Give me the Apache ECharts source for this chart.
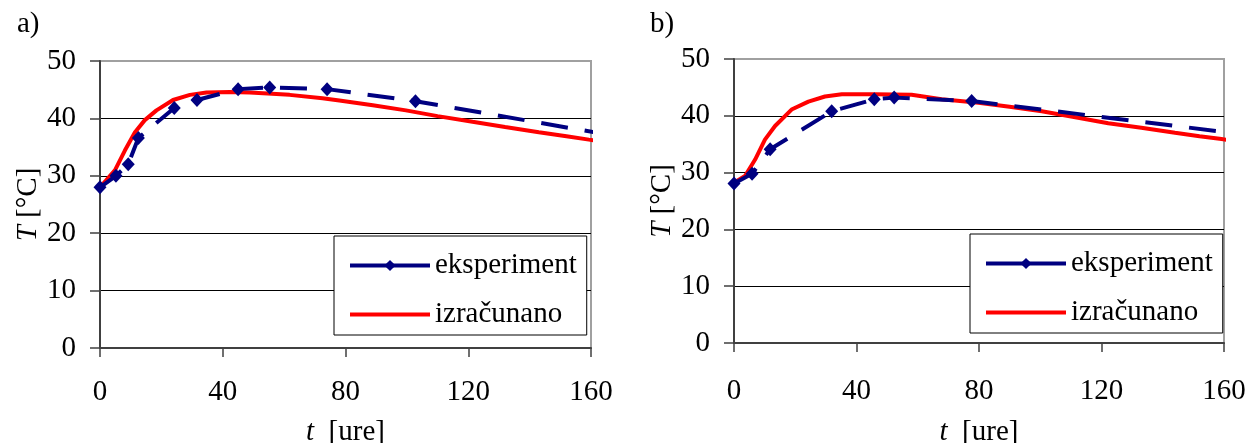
<!DOCTYPE html>
<html>
<head>
<meta charset="utf-8">
<script src="https://cdn.jsdelivr.net/npm/echarts@6/dist/echarts.min.js"></script>
<style>
html,body{margin:0;padding:0;background:#fff;}
#c{width:1256px;height:443px;}
</style>
</head>
<body>
<div id="c"></div>
<script>
// ---- data ----
const panelLabels = ['a)', 'b)'];
const xTicks = [0, 40, 80, 120, 160];
const yTicks = [0, 10, 20, 30, 40, 50];
const seriesNames = ['eksperiment', 'izračunano'];

// panel a – experiment
const tExpA = [0, 5.2, 9.2, 12.5, 24.2, 31.6, 45, 55.3, 74, 102.8, 162];
const TExpA = [28, 30, 32, 36.6, 41.8, 43.2, 45.1, 45.4, 45.1, 43.0, 37.5];
// panel a – computed
const tCalcA = [0, 2, 4.9, 8.1, 11.4, 14.6, 18.4, 23.8, 29.3, 34.7, 42.3, 48.8, 61.8, 72.5, 78, 88.9, 99.7, 110, 121.4, 132, 143, 152, 159.3, 162];
const TCalcA = [28, 29.2, 31, 34.4, 37.6, 39.7, 41.4, 43.2, 44.1, 44.5, 44.6, 44.5, 44.1, 43.5, 43.1, 42.3, 41.4, 40.4, 39.4, 38.5, 37.6, 36.9, 36.3, 36.1];

// panel b – experiment
const tExpB = [0, 5.9, 11.8, 31.9, 45.8, 52.3, 77.6, 161];
const TExpB = [28.1, 29.8, 34.1, 40.8, 42.9, 43.2, 42.6, 37.1];
// panel b – computed
const tCalcB = [0, 3.6, 6.9, 10.1, 13.4, 18.8, 24.3, 29.7, 35.2, 46, 58, 67.8, 79.8, 90, 100.5, 111, 122.2, 133, 144, 152, 159.2, 162];
const TCalcB = [28.2, 29.4, 32.3, 35.8, 38.2, 41.1, 42.5, 43.4, 43.8, 43.8, 43.7, 42.9, 42.3, 41.6, 40.8, 39.8, 38.7, 37.9, 37.0, 36.4, 35.9, 35.7];

// ---- styling ----
const FONT = "'Liberation Serif', 'Times New Roman', serif";
const FS = 29;
const NAVY = '#000080';
const RED = '#ff0000';

function pairs(xs, ys, lastNoSymbol) {
  return xs.map((x, i) => {
    if (lastNoSymbol && i === xs.length - 1) return { value: [x, ys[i]], symbol: 'none' };
    return [x, ys[i]];
  });
}

const grids = [
  { left: 100, right: 665, top: 61, bottom: 95 },
  { left: 734, right: 32, top: 59, bottom: 100 }
];
const labelMargins = [30, 34];
const nameGaps = [70, 75];

function xAxis(idx) {
  return {
    type: 'value', gridIndex: idx, min: xTicks[0], max: xTicks[xTicks.length - 1], interval: 40,
    axisLine: { show: true, onZero: false, lineStyle: { color: '#404040', width: 2 } },
    axisTick: { show: true, length: 9, inside: false, lineStyle: { color: '#404040', width: 1.5 } },
    axisLabel: { fontFamily: FONT, fontSize: FS, color: '#000', margin: labelMargins[idx], showMaxLabel: true },
    splitLine: { show: false },
    name: '{i|t}  [ure]',
    nameLocation: 'middle',
    nameGap: nameGaps[idx],
    nameTextStyle: {
      fontFamily: FONT, fontSize: FS, color: '#000',
      rich: { i: { fontFamily: FONT, fontSize: FS, fontStyle: 'italic', color: '#000' } }
    }
  };
}

function yAxis(idx) {
  return {
    type: 'value', gridIndex: idx, min: yTicks[0], max: yTicks[yTicks.length - 1], interval: 10,
    axisLine: { show: true, onZero: false, lineStyle: { color: '#404040', width: 2 } },
    axisTick: { show: true, length: 10, inside: false, lineStyle: { color: '#404040', width: 1.5 } },
    axisLabel: { fontFamily: FONT, fontSize: FS, color: '#000', margin: 24 },
    splitLine: { show: true, lineStyle: { color: ['#000', '#000', '#000', '#000', '#000', 'rgba(0,0,0,0)'], width: 1 } },
    name: '{i|T} [°C]',
    nameLocation: 'middle',
    nameGap: 57,
    nameRotate: 90,
    nameTextStyle: {
      fontFamily: FONT, fontSize: FS, color: '#000',
      rich: { i: { fontFamily: FONT, fontSize: FS, fontStyle: 'italic', color: '#000' } }
    }
  };
}

function expSeries(idx, xs, ys) {
  return {
    name: seriesNames[0], type: 'line', xAxisIndex: idx, yAxisIndex: idx,
    data: pairs(xs, ys, true), clip: false,
    symbol: 'diamond', symbolSize: [13, 14], showSymbol: true,
    itemStyle: { color: NAVY },
    lineStyle: { color: NAVY, width: 4, type: [27, 17] },
    z: 3, animation: false
  };
}
function calcSeries(idx, xs, ys) {
  return {
    name: seriesNames[1], type: 'line', xAxisIndex: idx, yAxisIndex: idx,
    data: pairs(xs, ys, false), clip: false,
    symbol: 'none', showSymbol: false,
    itemStyle: { color: RED },
    lineStyle: { color: RED, width: 4, type: 'solid' },
    z: 2, animation: false
  };
}

function legend(left, top) {
  return {
    left: left, top: top, orient: 'vertical',
    data: [
      { name: seriesNames[0] },
      { name: seriesNames[1], itemStyle: { opacity: 0 } }
    ],
    selectedMode: false,
    itemWidth: 80, itemHeight: 14, itemGap: 20,
    padding: [15, 10, 6, 14],
    borderColor: '#000', borderWidth: 1, backgroundColor: '#fff',
    lineStyle: { type: 'solid', width: 4 },
    textStyle: { fontFamily: FONT, fontSize: FS, color: '#000', lineHeight: 28 }
  };
}

const chart = echarts.init(document.getElementById('c'), null, { renderer: 'canvas' });
chart.setOption({
  animation: false,
  backgroundColor: '#fff',
  grid: grids.map(g => Object.assign({ show: true, borderColor: '#a0a0a0', borderWidth: 2, backgroundColor: 'transparent', containLabel: false, outerBoundsMode: 'none' }, g)),
  xAxis: [xAxis(0), xAxis(1)],
  yAxis: [yAxis(0), yAxis(1)],
  legend: [legend(334, 236), legend(970, 234)],
  series: [
    calcSeries(0, tCalcA, TCalcA),
    expSeries(0, tExpA, TExpA),
    calcSeries(1, tCalcB, TCalcB),
    expSeries(1, tExpB, TExpB)
  ],
  graphic: [
    { type: 'text', left: 17, top: 10, style: { text: panelLabels[0], fontFamily: FONT, fontSize: FS, fill: '#000' } },
    { type: 'text', left: 650, top: 10, style: { text: panelLabels[1], fontFamily: FONT, fontSize: FS, fill: '#000' } }
  ]
});
</script>
</body>
</html>
